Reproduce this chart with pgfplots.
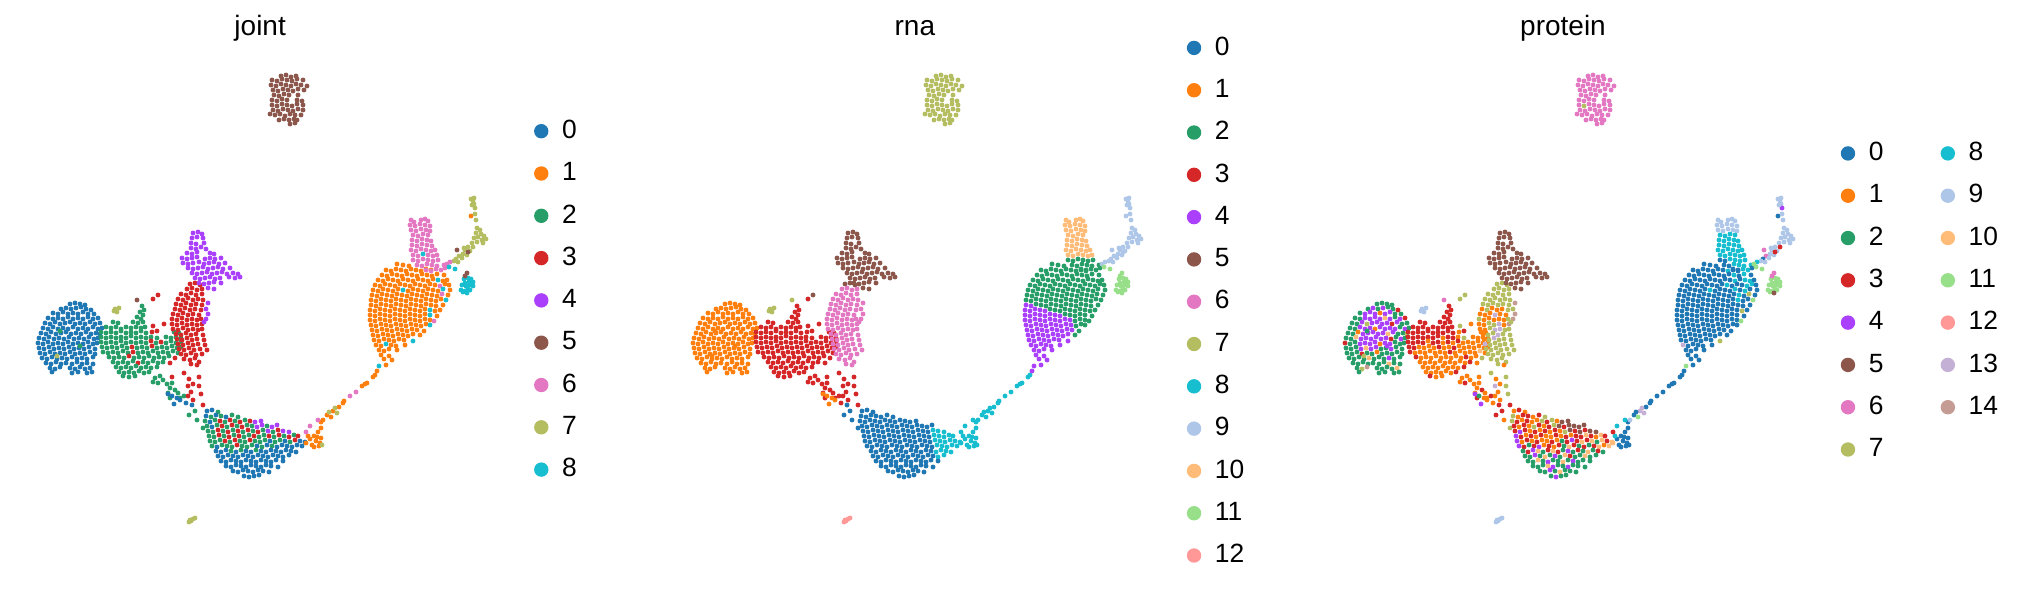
\documentclass[border=0pt]{standalone}
\usepackage{fontspec}
\setmainfont{Liberation Sans}
\usepackage{pgfplots}
\usepackage{pgfplotstable}
\pgfplotsset{compat=1.18}
\definecolor{c0}{HTML}{1F77B4}\definecolor{c1}{HTML}{FF7F0E}\definecolor{c2}{HTML}{279E68}
\definecolor{c3}{HTML}{D62728}\definecolor{c4}{HTML}{AA40FC}\definecolor{c5}{HTML}{8C564B}
\definecolor{c6}{HTML}{E377C2}\definecolor{c7}{HTML}{B5BD61}\definecolor{c8}{HTML}{17BECF}
\definecolor{c9}{HTML}{AEC7E8}\definecolor{c10}{HTML}{FFBB78}\definecolor{c11}{HTML}{98DF8A}
\definecolor{c12}{HTML}{FF9896}\definecolor{c13}{HTML}{C5B0D5}\definecolor{c14}{HTML}{C49C94}
\pgfplotstableread{
x y j r p
70 304 0 1 2
75 303 0 1 2
80 304 0 1 2
85 305 0 1 2
61 309 0 1 2
66 308 0 1 4
71 309 0 1 2
76 308 0 1 4
81 307 0 1 2
86 309 0 1 2
91 310 0 1 3
53 313 0 1 2
58 314 0 1 4
63 312 0 1 4
68 314 0 1 4
73 313 0 1 1
78 314 0 1 4
83 312 0 1 4
88 314 0 1 2
94 314 0 1 2
48 318 0 1 2
53 319 0 1 2
58 318 0 1 4
63 319 0 1 4
68 317 0 1 4
73 319 0 1 4
78 318 0 1 10
83 319 0 1 4
88 317 0 1 2
93 319 0 1 4
98 318 0 1 3
45 323 0 1 2
50 324 0 1 2
55 322 0 1 4
60 324 0 1 7
65 323 0 1 4
70 322 0 1 4
75 324 0 1 4
80 323 0 1 4
85 324 0 1 3
90 322 0 1 4
95 324 0 1 2
100 323 0 1 2
43 328 0 1 2
48 329 0 1 2
53 327 0 1 4
58 329 0 1 4
63 328 0 1 4
68 329 0 1 1
73 327 0 1 4
78 329 0 1 4
83 328 0 1 4
88 329 0 1 4
93 327 0 1 2
98 329 0 1 4
102 328 0 1 2
41 333 0 1 2
46 334 0 1 2
51 332 0 1 1
56 334 0 1 4
61 333 0 1 4
66 332 0 1 4
71 334 0 1 4
76 333 0 1 4
81 334 0 1 10
86 332 0 1 4
91 334 0 1 2
96 333 0 1 2
100 334 0 1 7
39 338 0 1 2
44 339 0 1 2
49 337 0 1 10
54 339 0 1 4
59 338 0 1 4
64 339 0 1 4
69 337 0 1 4
74 339 0 1 4
79 338 0 1 4
84 339 0 1 3
89 337 0 1 2
94 339 0 1 4
98 338 0 1 2
38 343 0 1 3
43 344 0 1 2
48 342 0 1 2
53 344 0 1 4
58 343 0 1 4
63 344 0 1 4
68 342 0 1 4
73 344 0 1 1
78 343 0 1 4
83 344 0 1 4
88 342 0 1 2
93 344 0 1 2
97 343 0 1 2
39 348 0 1 2
44 349 0 1 2
49 347 0 1 2
54 349 0 1 4
59 348 0 1 10
64 349 0 1 4
69 347 0 1 4
74 349 0 1 2
79 348 0 1 2
84 349 0 1 4
89 347 0 1 2
95 349 0 1 2
40 353 0 1 2
45 354 0 1 2
50 352 0 1 2
55 354 0 1 3
60 353 0 1 2
65 354 0 1 2
70 352 0 1 1
75 354 0 1 2
80 353 0 1 2
85 354 0 1 2
90 352 0 1 2
95 354 0 1 2
42 358 0 1 2
47 359 0 1 2
52 357 0 1 2
57 359 0 1 2
62 358 0 1 10
67 359 0 1 2
72 357 0 1 2
77 359 0 1 2
82 358 0 1 4
87 359 0 1 2
93 357 0 1 2
46 363 0 1 2
51 364 0 1 2
56 362 0 1 2
61 364 0 1 2
66 363 0 1 2
72 364 0 1 2
77 362 0 1 2
82 364 0 1 10
87 363 0 1 2
93 364 0 1 2
50 368 0 1 2
55 369 0 1 7
60 367 0 1 14
70 368 0 1 2
75 369 0 1 2
80 367 0 1 2
85 369 0 1 2
90 368 0 1 10
52 372 0 1 2
72 373 0 1 2
78 372 0 1 2
87 373 0 1 2
92 372 0 1 2
60 331 2 1 2
80 346 2 1 4
57 356 7 1 7
142 306 2 3 3
144 310 2 3 3
140 312 2 3 3
143 315 2 3 3
137 317 2 3 3
141 319 2 3 3
113 322 2 3 3
118 323 2 3 3
133 322 2 3 3
138 323 2 3 3
143 322 2 3 3
106 327 2 3 3
111 328 2 3 3
116 327 2 3 3
121 329 2 3 3
126 327 2 3 3
131 328 2 3 3
136 327 2 3 3
141 328 2 3 3
145 327 2 3 3
101 332 2 3 3
106 333 2 3 3
111 332 2 3 3
116 333 2 3 3
121 331 2 3 3
126 333 2 3 3
131 332 2 3 3
136 333 2 3 3
141 331 2 3 3
146 333 2 3 3
152 332 3 3 1
174 332 2 3 1
179 333 2 3 1
101 337 2 3 3
106 338 2 3 3
111 337 2 3 3
116 338 2 3 3
121 337 2 3 3
126 338 2 3 3
131 336 2 3 3
136 338 2 3 1
141 337 2 3 3
146 338 2 3 3
151 337 2 3 1
157 338 2 3 7
166 337 2 3 1
171 338 2 3 1
176 337 2 3 1
181 338 2 3 1
101 342 2 3 3
106 343 2 3 3
111 342 2 3 3
116 343 2 3 3
121 341 2 3 1
126 343 2 3 3
131 342 2 3 3
136 343 2 3 1
141 342 2 3 3
146 343 2 3 1
151 341 3 3 3
156 343 2 3 1
161 342 3 3 1
166 343 2 3 1
171 341 2 3 1
176 343 2 3 1
181 342 2 3 1
102 347 2 3 3
107 348 2 3 3
112 347 2 3 1
117 348 2 3 1
122 346 2 3 1
127 348 2 3 1
132 347 3 3 3
137 348 2 3 1
142 347 2 3 1
147 348 2 3 3
152 346 3 3 1
157 348 2 3 1
162 347 2 3 1
167 348 2 3 1
172 346 2 3 1
177 348 2 3 1
181 347 2 3 1
103 352 2 3 3
108 353 2 3 1
113 352 2 3 1
118 353 2 3 1
123 351 2 3 1
128 353 2 3 1
133 352 3 3 1
138 353 2 3 1
143 352 2 3 3
148 353 2 3 1
153 351 2 3 1
158 353 2 3 1
163 352 2 3 1
168 353 2 3 1
173 351 2 3 10
178 353 2 3 1
109 357 2 3 3
114 358 2 3 1
119 357 2 3 1
124 358 2 3 1
129 356 3 3 1
134 358 2 3 1
139 357 2 3 1
144 358 2 3 1
149 356 2 3 1
154 358 2 3 1
159 357 2 3 3
164 358 2 3 1
169 356 2 3 1
175 358 3 3 7
113 362 2 3 1
118 363 2 3 1
123 362 2 3 1
128 363 2 3 1
133 361 2 3 1
138 363 3 3 1
143 362 2 3 1
148 363 2 3 1
153 361 2 3 1
158 363 2 3 1
163 362 2 3 3
170 363 3 3 1
116 367 2 3 1
121 368 2 3 1
126 367 2 3 1
131 368 2 3 1
136 366 2 3 1
141 368 2 3 1
146 367 2 3 1
151 368 2 3 1
157 367 2 3 3
119 372 2 3 1
124 373 2 3 1
129 372 2 3 1
134 373 2 3 1
139 371 2 3 1
144 373 2 3 1
149 372 2 3 3
123 376 2 3 3
129 377 2 3 1
135 376 2 3 1
115 309 7 7 9
114 311 7 7 9
119 308 7 7 9
117 312 7 7 9
137 300 5 7 6
153 299 3 3 7
158 295 3 5 7
153 326 3 3 7
164 324 3 3 1
157 331 3 3 3
190 284 3 5 7
195 283 3 5 7
200 285 3 5 7
187 289 3 6 7
192 288 3 6 7
197 290 3 6 7
202 289 3 6 7
181 294 3 6 7
186 295 3 6 7
191 293 3 6 7
196 295 3 6 7
202 294 3 6 7
178 299 3 6 7
183 300 3 6 7
188 298 3 6 7
193 300 3 6 7
198 299 3 6 7
203 300 3 6 7
176 304 3 6 7
181 305 3 6 7
186 303 3 6 7
191 305 3 6 7
196 304 3 6 7
202 305 3 6 7
175 309 3 6 1
180 310 3 6 7
185 308 3 6 1
190 310 3 6 1
195 309 3 6 1
201 310 3 6 7
173 314 3 6 1
178 315 3 6 1
183 313 3 6 1
188 315 3 6 13
193 314 3 6 1
199 315 3 6 1
172 319 3 6 7
177 320 3 6 1
182 318 3 6 1
187 320 3 6 1
192 319 3 6 1
197 320 3 6 1
201 319 3 6 7
172 324 3 6 1
177 325 3 6 1
182 323 3 6 7
187 325 3 6 7
192 324 3 6 13
197 325 3 6 1
202 324 3 6 14
173 329 3 6 1
178 330 3 6 1
183 328 3 6 7
188 330 3 6 13
193 329 3 6 13
198 330 3 6 7
202 329 3 6 7
176 334 3 6 1
181 335 3 6 7
186 333 3 6 7
191 335 3 6 13
196 334 3 6 7
203 335 3 6 7
177 339 3 6 1
182 340 3 6 7
187 338 3 6 13
192 340 3 6 7
197 339 3 6 7
204 340 3 6 7
178 344 3 6 13
183 345 3 6 7
188 343 3 6 7
193 345 3 6 7
198 344 3 6 7
205 345 3 6 7
179 349 3 6 7
184 350 3 6 7
189 348 3 6 7
194 350 3 6 7
200 349 3 6 7
207 350 3 6 7
181 354 3 6 7
186 355 3 6 7
191 353 3 6 7
196 355 3 6 7
202 354 3 6 7
184 359 3 6 7
190 360 3 6 7
195 358 3 6 7
199 362 3 6 7
191 364 3 6 7
197 365 3 6 1
208 303 4 6 14
206 309 4 6 7
208 314 4 6 14
206 319 4 6 14
204 322 4 6 7
193 233 4 5 5
198 232 4 5 5
202 234 4 5 5
192 238 4 5 5
197 237 4 5 5
203 238 4 5 5
191 243 4 5 5
196 244 4 5 5
204 243 4 5 5
191 248 4 5 5
196 249 4 5 5
201 247 4 5 5
206 249 4 5 5
187 253 4 5 5
192 254 4 5 5
197 252 4 5 5
210 253 4 5 5
214 254 4 5 5
182 258 4 5 5
187 259 4 5 5
192 258 4 5 5
197 257 4 5 5
205 259 4 5 5
210 258 4 5 5
215 259 4 5 5
221 258 4 5 5
183 263 4 5 5
188 264 4 5 5
193 263 4 5 5
199 262 4 5 5
204 264 4 5 5
209 263 4 5 5
214 262 4 5 5
219 264 4 5 5
225 263 4 5 5
188 268 4 5 5
193 269 4 5 5
198 268 4 5 5
203 267 4 5 5
208 269 4 5 5
213 268 4 5 5
218 267 4 5 5
223 269 4 5 5
230 268 4 5 5
192 273 4 5 5
197 274 4 5 5
202 273 4 5 5
207 272 4 5 5
212 274 4 5 5
217 273 4 5 5
222 272 4 5 5
227 274 4 5 5
233 273 4 5 5
238 274 4 5 5
195 278 4 5 5
200 279 4 5 5
205 278 4 5 5
210 277 4 5 5
215 279 4 5 5
220 278 4 5 5
229 277 4 5 5
235 278 4 5 5
240 277 4 5 5
199 283 4 5 5
204 284 4 5 5
209 283 4 5 5
214 282 4 5 5
221 283 4 5 5
208 288 4 5 5
214 289 4 5 5
155 378 2 3 1
160 376 2 3 1
163 380 2 3 1
158 383 2 3 3
167 384 2 3 1
153 382 2 3 1
170 388 2 3 1
172 383 2 3 1
175 390 2 3 3
178 393 2 3 1
180 398 2 3 1
170 398 2 3 3
168 393 2 3 1
184 396 2 3 3
168 394 0 1 4
172 396 0 1 2
177 398 0 1 1
180 400 0 1 1
186 403 0 3 1
192 405 0 0 3
174 404 0 1 4
172 377 3 3 1
184 373 3 3 7
189 379 3 3 1
199 377 3 3 7
188 386 3 3 13
193 384 3 3 1
199 386 3 3 7
191 392 3 3 1
188 396 3 3 1
201 394 3 3 7
193 400 3 3 1
203 405 3 3 3
189 415 2 0 3
197 420 2 0 1
203 428 2 0 7
195 411 2 0 3
207 411 0 0 1
212 410 0 0 3
218 412 2 0 1
206 416 0 0 7
211 417 2 0 1
216 415 0 0 3
221 416 2 0 3
226 417 0 0 1
232 415 2 0 3
238 417 2 0 7
205 421 2 0 7
210 422 0 0 3
215 420 2 0 1
220 421 3 0 3
225 422 2 0 1
230 420 3 0 1
235 421 2 0 7
240 422 3 0 3
245 420 2 0 7
250 421 3 0 1
255 422 4 0 5
261 421 4 0 5
207 426 2 0 3
212 427 0 0 1
217 425 2 0 3
222 426 3 0 1
227 427 2 0 7
232 425 3 0 3
237 426 2 0 1
242 427 3 0 3
247 425 2 0 7
252 426 2 0 5
257 427 4 0 3
262 425 4 0 5
267 426 2 0 5
272 427 4 0 5
277 425 4 0 5
208 431 2 0 3
213 432 2 0 4
218 430 3 0 3
223 431 2 0 1
228 432 3 0 3
233 430 2 0 1
238 431 3 0 3
243 432 2 0 1
248 430 3 0 3
253 431 2 0 1
258 432 3 0 7
263 430 2 0 5
268 431 4 0 3
273 432 2 0 5
278 430 3 8 3
283 431 4 8 5
289 432 4 8 5
209 436 2 0 4
214 437 2 0 3
219 435 3 0 1
224 436 2 0 3
229 437 3 0 1
234 435 2 0 3
239 436 3 0 1
244 437 2 0 1
249 435 2 0 3
254 436 3 0 1
259 437 2 0 3
264 435 2 0 1
269 436 3 0 3
274 437 2 0 3
279 435 3 8 10
284 436 2 8 3
289 437 3 8 1
294 435 2 8 10
298 436 3 8 3
210 441 2 0 4
215 442 2 0 1
220 440 2 0 3
225 441 3 0 1
230 442 2 0 3
235 440 3 0 1
240 441 2 0 1
245 442 2 0 3
250 440 3 0 1
255 441 2 0 2
260 442 2 0 3
265 440 2 0 4
270 441 0 0 3
275 442 2 0 10
280 440 2 8 3
285 441 0 8 10
290 442 2 8 2
295 440 3 8 10
300 441 0 8 3
305 442 0 8 10
212 446 2 0 4
217 447 0 0 3
222 445 2 0 2
227 446 2 0 3
232 447 2 0 4
237 445 3 0 1
242 446 2 0 3
247 447 2 0 1
252 445 2 0 3
257 446 0 0 2
262 447 2 0 10
267 445 0 0 3
272 446 2 0 2
277 447 0 0 3
282 445 0 8 2
287 446 0 8 3
292 447 0 8 10
297 445 0 8 1
302 446 0 8 10
216 451 0 0 2
221 452 0 0 3
226 450 0 0 4
231 451 2 0 10
236 452 0 0 2
241 450 2 0 3
246 451 0 0 10
251 452 0 0 3
256 450 2 0 2
261 451 0 0 4
266 452 0 0 2
271 450 0 0 3
276 451 0 0 2
281 452 0 8 10
286 450 0 8 2
291 451 0 8 3
296 452 0 8 2
218 456 0 0 2
223 457 0 0 2
228 455 0 0 4
233 456 0 0 2
238 457 0 0 10
243 455 0 0 2
248 456 0 0 4
253 457 0 0 2
258 455 0 0 10
263 456 0 0 3
268 457 0 0 2
273 455 0 0 2
278 456 0 0 10
283 457 0 8 2
289 455 0 8 2
221 461 0 0 2
226 462 0 0 2
231 460 0 0 10
236 461 0 0 2
241 462 0 0 4
246 460 0 0 2
251 461 0 0 2
256 462 0 0 10
261 460 0 0 2
266 461 0 0 4
271 462 0 0 2
276 460 0 0 2
283 461 0 0 2
226 466 0 0 2
231 467 0 0 2
236 465 0 0 2
241 466 0 0 10
246 467 0 0 4
251 465 0 0 2
256 466 0 0 2
261 467 0 0 4
266 465 0 0 2
271 466 0 0 2
278 467 0 0 2
233 471 0 0 2
238 472 0 0 2
243 470 0 0 4
248 471 0 0 2
253 472 0 0 10
258 470 0 0 2
263 471 0 0 2
269 472 0 0 2
244 476 0 0 2
249 477 0 0 4
254 476 0 0 2
259 475 0 0 2
310 439 1 8 0
314 436 1 8 0
316 441 1 8 0
320 443 1 8 0
306 443 1 8 10
312 445 1 8 0
318 432 1 8 0
321 428 1 8 0
321 422 1 8 0
323 420 1 8 9
317 437 1 8 0
308 436 1 8 8
321 438 1 8 0
319 446 1 8 0
322 445 7 8 0
314 447 1 8 0
310 426 6 8 8
318 420 6 8 8
306 432 6 8 3
327 415 1 8 0
333 411 1 8 13
339 407 1 8 0
331 417 1 8 11
337 413 7 8 13
329 412 7 8 0
335 408 7 8 13
343 403 1 8 0
344 401 1 8 0
350 396 6 8 0
356 392 6 8 0
362 386 1 8 0
365 384 1 8 0
367 383 1 8 0
373 377 1 8 0
375 375 1 8 0
377 371 1 4 0
379 366 8 4 11
386 365 1 4 0
392 360 1 4 0
397 264 1 2 0
403 265 1 2 0
409 266 1 2 0
386 270 1 2 0
391 271 1 2 0
396 269 1 2 0
401 270 1 2 0
406 271 1 2 0
411 269 1 2 0
416 270 1 2 0
421 271 1 2 8
426 269 1 2 0
431 270 1 2 0
382 275 1 2 0
387 276 1 2 0
392 274 1 2 0
397 275 1 2 0
402 276 1 2 0
407 274 1 2 0
412 275 1 2 0
417 276 1 2 0
422 274 1 2 0
427 275 1 2 8
432 276 1 2 0
437 274 1 2 8
444 275 1 2 0
378 280 1 2 0
383 281 1 2 0
388 279 1 2 0
393 280 1 2 0
398 281 1 2 0
403 279 1 2 0
408 280 1 2 0
413 281 1 2 0
418 279 1 2 0
423 280 1 2 0
428 281 1 2 8
433 279 1 2 0
438 280 8 2 8
443 281 1 2 8
447 280 1 2 0
375 285 1 2 0
380 286 1 2 0
385 284 1 2 0
390 285 1 2 0
395 286 1 2 0
400 284 1 2 0
405 285 1 2 0
410 286 1 2 0
415 284 1 2 0
420 285 1 2 8
425 286 1 2 0
430 284 1 2 0
435 285 1 2 0
440 286 6 2 8
445 284 1 2 8
449 285 1 2 0
373 290 1 2 0
378 291 1 2 0
383 289 1 2 0
388 290 1 2 0
393 291 1 2 0
398 289 1 2 0
403 290 8 2 8
408 291 1 2 0
413 289 1 2 0
418 290 1 2 0
423 291 1 2 0
428 289 1 2 8
433 290 1 2 0
438 291 1 2 8
443 289 8 2 0
450 290 1 2 0
372 295 1 2 0
377 296 1 2 0
382 294 1 2 0
387 295 1 2 0
392 296 1 2 0
397 294 1 2 0
402 295 1 2 0
407 296 1 2 0
412 294 1 2 0
417 295 1 2 0
422 296 1 2 0
427 294 1 2 0
432 295 1 2 8
437 296 1 2 0
442 294 6 2 7
448 295 1 2 0
371 300 1 2 0
376 301 1 2 0
381 299 1 2 0
386 300 1 2 0
391 301 1 2 0
396 299 1 2 0
401 300 1 2 0
406 301 1 2 0
411 299 1 2 0
416 300 1 2 0
421 301 1 2 0
426 299 1 2 0
431 300 1 2 8
436 301 1 2 0
441 299 1 2 0
446 300 8 2 11
371 305 1 4 0
376 306 1 4 0
381 304 1 2 0
386 305 1 2 0
391 306 1 2 0
396 304 1 2 0
401 305 1 2 0
406 306 1 2 0
411 304 1 2 0
416 305 1 2 0
421 306 1 2 0
426 304 1 2 0
431 305 1 2 0
436 306 1 2 0
443 305 1 2 0
370 310 1 4 0
375 311 1 4 0
380 309 1 4 0
385 310 1 4 0
390 311 1 4 0
395 309 1 2 0
400 310 1 2 0
405 311 1 2 0
410 309 1 2 0
415 310 1 2 0
420 311 1 2 0
425 309 1 2 0
430 310 8 2 0
435 311 1 2 7
440 310 1 2 0
370 315 1 4 0
375 316 1 4 0
380 314 1 4 0
385 315 1 4 0
390 316 1 4 0
395 314 1 4 0
400 315 1 4 0
405 316 1 4 0
410 314 1 2 0
415 315 1 2 0
420 316 1 2 0
425 314 1 2 0
430 315 8 2 0
437 316 1 2 0
370 320 1 4 0
375 321 1 4 0
380 319 1 4 0
385 320 1 4 0
390 321 1 4 0
395 319 1 4 0
400 320 1 4 0
405 321 1 4 0
410 319 1 4 0
415 320 1 4 0
420 321 1 2 0
425 319 1 2 0
430 320 1 2 0
434 321 6 2 11
371 325 1 4 0
376 326 1 4 0
381 324 1 4 0
386 325 1 4 0
391 326 1 4 0
396 324 1 4 0
401 325 1 4 0
406 326 1 4 0
411 324 1 4 0
416 325 1 4 0
421 326 1 2 0
426 324 1 2 0
430 325 8 2 0
372 330 1 4 0
377 331 1 4 0
382 329 1 4 0
387 330 1 4 0
392 331 1 4 0
397 329 1 4 0
402 330 1 4 0
407 331 1 4 0
412 329 1 4 0
417 330 1 4 0
424 331 1 2 0
373 335 1 4 0
378 336 1 4 0
383 334 1 4 0
388 335 1 4 0
393 336 1 4 0
398 334 1 4 0
403 335 1 4 0
408 336 1 4 0
413 334 1 4 0
420 335 1 2 0
374 340 1 4 0
379 341 1 4 0
384 339 1 4 0
389 340 1 4 0
394 341 1 4 0
399 339 1 4 0
404 340 1 4 0
413 341 8 4 7
376 345 1 4 13
381 346 1 4 0
386 344 8 4 0
391 345 1 4 0
396 346 1 4 0
405 345 1 4 0
379 350 1 4 0
384 351 1 4 0
389 349 1 4 0
397 350 1 4 0
381 355 1 4 0
389 356 1 4 0
384 359 1 4 0
411 220 6 10 9
414 222 6 10 9
421 220 6 10 9
425 219 6 10 9
428 221 6 10 9
410 225 6 10 9
415 226 6 10 9
420 224 6 10 9
425 225 6 10 9
430 226 6 10 9
411 230 6 10 9
416 231 6 10 9
421 229 6 10 9
426 230 6 10 9
430 231 6 10 9
413 235 6 10 8
418 236 6 10 8
423 234 6 10 8
428 235 6 10 8
412 240 6 10 8
417 241 6 10 8
422 239 6 10 8
427 240 6 10 8
431 241 6 10 8
412 245 6 10 8
417 246 6 10 8
422 244 6 10 8
427 245 6 10 8
432 246 6 10 8
411 250 6 10 8
416 251 6 10 8
421 249 6 10 8
426 250 6 10 8
431 251 6 10 8
435 250 6 10 8
413 255 6 10 8
418 256 6 10 8
423 254 8 10 8
428 255 6 10 8
433 256 6 10 8
437 255 6 10 8
413 260 6 2 0
418 261 6 2 0
423 259 6 2 8
428 260 6 2 8
433 261 6 2 8
438 260 6 2 8
417 265 6 2 0
422 266 6 2 0
427 264 6 2 8
432 265 6 2 8
437 266 6 2 8
444 265 6 2 8
426 270 6 2 0
431 271 6 2 0
436 269 6 2 8
441 270 6 2 8
445 268 6 2 0
471 199 7 9 9
473 201 7 9 9
474 204 7 9 9
475 208 7 9 4
472 205 7 9 9
474 198 7 9 9
471 216 1 9 0
475 214 7 9 9
476 220 7 9 9
477 228 7 9 9
480 230 7 9 9
476 233 7 9 9
481 234 7 9 9
484 236 7 9 9
478 237 7 9 9
486 239 7 9 9
482 240 7 9 9
474 238 7 9 9
477 242 7 9 9
483 243 7 9 9
472 243 7 9 9
468 247 7 9 9
473 247 7 9 3
470 251 7 9 9
465 250 7 9 9
463 254 7 9 9
467 255 7 9 9
459 256 7 9 6
462 258 7 9 9
456 259 7 9 0
458 262 7 9 9
454 261 7 9 9
464 248 7 9 9
450 262 6 9 8
447 264 6 9 11
457 250 5 9 6
468 252 5 9 3
464 279 8 11 11
468 278 8 11 11
471 279 8 11 11
473 282 8 11 11
469 282 8 11 11
465 283 8 11 11
462 285 8 11 11
466 286 8 11 11
470 285 8 11 11
473 286 8 11 11
468 289 8 11 11
465 291 8 11 11
470 290 8 11 11
463 292 8 11 11
467 293 8 11 5
461 290 8 11 11
472 284 8 11 11
455 269 8 11 11
449 267 8 11 11
467 273 5 11 6
465 276 5 11 6
281 76 5 7 6
286 75 5 7 6
291 77 5 7 6
296 76 5 7 6
272 80 5 7 6
277 81 5 7 6
282 79 5 7 6
287 80 5 7 6
292 81 5 7 6
297 79 5 7 6
303 80 5 7 6
271 85 5 7 6
276 86 5 7 6
281 84 5 7 6
286 85 5 7 6
291 86 5 7 6
296 84 5 7 6
301 85 5 7 6
307 86 5 7 6
273 90 5 7 6
278 91 5 7 6
283 89 5 7 6
288 90 5 7 6
293 91 5 7 6
298 89 5 7 6
304 90 5 7 6
274 95 5 7 6
279 96 5 7 6
284 94 5 7 6
289 95 5 7 6
298 95 5 7 6
272 100 5 7 6
277 101 5 7 6
282 99 5 7 6
287 100 5 7 6
297 100 5 7 6
302 101 5 7 6
272 105 5 7 6
277 106 5 7 7
282 104 5 7 6
287 105 5 7 6
292 106 5 7 6
297 104 5 7 6
303 105 5 7 6
273 110 5 7 6
278 111 5 7 6
283 109 5 7 6
288 110 5 7 6
293 111 5 7 6
298 109 5 7 6
303 110 5 7 6
270 114 5 7 6
275 115 5 7 6
280 114 5 7 6
285 116 5 7 6
290 114 5 7 6
295 115 5 7 6
301 115 5 7 6
279 120 5 7 6
284 119 5 7 6
289 120 5 7 6
294 119 5 7 6
297 120 5 7 6
290 124 5 7 6
295 123 5 7 6
189 522 7 12 9
191 521 7 12 9
193 519 7 12 9
195 518 7 12 9
190 520 7 12 9
}\cells
\pgfplotsset{
  panel/.style={
    scale only axis,width=320pt,height=297pt,xmin=0,xmax=640,ymin=0,ymax=594,y dir=reverse,
    hide axis,anchor=south west,
    every axis title shift=0pt,
    title style={anchor=center,font=\fontsize{14}{14}\selectfont},
    legend image code/.code={\fill[##1] (0pt,3.6pt) circle (3.6pt);},
    legend style={draw=none,fill=none,inner sep=0pt,outer sep=0pt,anchor=north west,
      font=\fontsize{13.2}{13.2}\selectfont,
      row sep=11.35pt,
      nodes={inner sep=0pt,outer sep=0pt,text height=9.8pt,text depth=0pt,anchor=base west},
      /tikz/every odd column/.append style={column sep=6.8pt},
      /tikz/every even column/.append style={column sep=28.6pt}},
  },
  dots/.style={scatter,only marks,forget plot,mark=*,mark size=1.1pt,scatter src=explicit symbolic,
    mark options={line width=0.2pt},
    scatter/classes={
      0={mark=*,draw=c0,fill=c0},1={mark=*,draw=c1,fill=c1},2={mark=*,draw=c2,fill=c2},
      3={mark=*,draw=c3,fill=c3},4={mark=*,draw=c4,fill=c4},5={mark=*,draw=c5,fill=c5},
      6={mark=*,draw=c6,fill=c6},7={mark=*,draw=c7,fill=c7},8={mark=*,draw=c8,fill=c8},
      9={mark=*,draw=c9,fill=c9},10={mark=*,draw=c10,fill=c10},11={mark=*,draw=c11,fill=c11},
      12={mark=*,draw=c12,fill=c12},13={mark=*,draw=c13,fill=c13},14={mark=*,draw=c14,fill=c14}}},
  key/.style={only marks,mark=none,fill=#1,draw=none},
}
\newcommand\K[1]{\addplot[key=c#1] coordinates {(-50,-50)};}
\begin{document}
\begin{tikzpicture}[x=1pt,y=1pt]
\path (0,0) rectangle (1012,297);
\begin{axis}[panel,at={(0pt,0pt)},title={joint},title style={at={(0.4065,0.953)}},
  legend style={at={(0.8345,0.8)}}]
\addplot[dots] table[x=x,y=y,meta=j]{\cells};
\K{0}\K{1}\K{2}\K{3}\K{4}\K{5}\K{6}\K{7}\K{8}
\legend{0,1,2,3,4,5,6,7,8}
\end{axis}
\begin{axis}[panel,at={(327.5pt,0pt)},title={rna},title style={at={(0.406,0.953)}},
  legend style={at={(0.831,0.9402)}}]
\addplot[dots] table[x=x,y=y,meta=r]{\cells};
\K{0}\K{1}\K{2}\K{3}\K{4}\K{5}\K{6}\K{7}\K{8}\K{9}\K{10}\K{11}\K{12}
\legend{0,1,2,3,4,5,6,7,8,9,10,11,12}
\end{axis}
\begin{axis}[panel,at={(653.5pt,0pt)},title={protein},title style={at={(0.400,0.953)}},
  legend columns=2,legend style={at={(0.834,0.7626)}}]
\addplot[dots] table[x=x,y=y,meta=p]{\cells};
\K{0}\K{8}\K{1}\K{9}\K{2}\K{10}\K{3}\K{11}\K{4}\K{12}\K{5}\K{13}\K{6}\K{14}\K{7}
\legend{0,8,1,9,2,10,3,11,4,12,5,13,6,14,7}
\end{axis}
\end{tikzpicture}
\end{document}
